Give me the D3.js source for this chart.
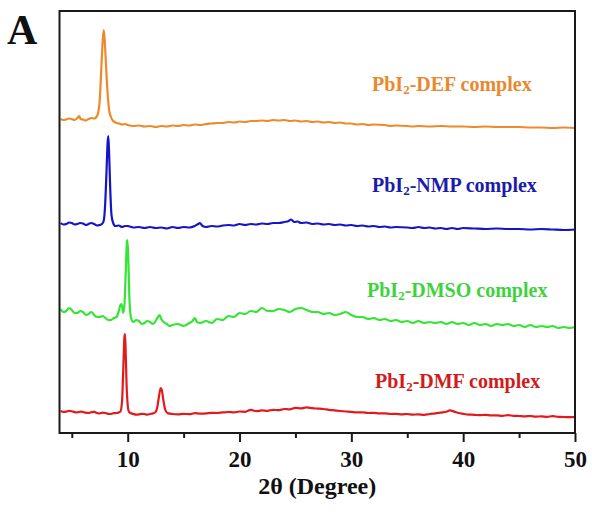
<!DOCTYPE html>
<html><head><meta charset="utf-8">
<script src="https://cdn.jsdelivr.net/npm/d3@7"></script>
<style>body{margin:0;background:#fff}svg{display:block}</style>
</head><body><svg id="c" width="592" height="517"></svg>
<script>
// 2θ (degree), intensity (counts, relative to each trace's offset)
const seriesNames = ["PbI2-DMF complex","PbI2-DMSO complex","PbI2-NMP complex","PbI2-DEF complex"];
const seriesOffsets = [0, 900, 1900, 2900];
const xMajorTicks = [10,20,30,40,50];
const xMinorTicks = [5,15,25,35,45];

const dmf = [[4.0,220],[4.25,212],[4.5,214],[4.75,222],[5.0,218],[5.25,209],[5.5,206],[5.75,214],[6.0,210],[6.25,203],[6.5,200],[6.75,208],[7.0,211],[7.25,200],[7.5,195],[7.75,203],[8.0,200],[8.25,192],[8.5,190],[8.75,198],[9.0,200],[9.2,206],[9.35,215],[9.5,330],[9.6,630],[9.7,950],[9.75,990],[9.8,880],[9.9,480],[10.0,280],[10.1,215],[10.25,200],[10.5,190],[10.75,184],[11.0,186],[11.25,192],[11.5,190],[11.75,183],[12.0,190],[12.25,196],[12.45,205],[12.65,260],[12.8,370],[12.95,450],[13.05,430],[13.2,320],[13.35,235],[13.55,200],[13.8,193],[14.0,190],[14.5,186],[15.0,192],[15.5,188],[16.0,198],[16.5,194],[17.0,196],[17.5,202],[18.0,200],[18.5,206],[19.0,210],[19.5,206],[20.0,215],[20.5,212],[21.0,232],[21.5,218],[22.0,226],[22.5,222],[23.0,232],[23.5,228],[24.0,240],[24.5,236],[25.0,252],[25.5,246],[26.0,256],[26.5,248],[27.0,244],[27.5,240],[28.0,232],[28.5,226],[29.0,220],[29.5,215],[30.0,212],[30.5,206],[31.0,206],[31.5,200],[32.0,202],[32.5,196],[33.0,196],[33.5,190],[34.0,192],[34.5,186],[35.0,190],[35.5,184],[36.0,186],[36.5,182],[37.0,190],[37.5,196],[38.0,204],[38.5,212],[38.8,226],[39.2,214],[39.6,200],[40.0,192],[40.5,184],[41.0,182],[41.5,178],[42.0,182],[42.5,176],[43.0,176],[43.5,172],[44.0,178],[44.5,172],[45.0,170],[45.5,166],[46.0,170],[46.5,164],[47.0,166],[47.5,162],[48.0,168],[48.5,162],[49.0,160],[49.5,158],[50.0,160]];

const dmso = [[4.0,340],[4.25,310],[4.5,320],[4.75,350],[5.0,330],[5.25,300],[5.5,300],[5.75,320],[6.0,310],[6.25,280],[6.5,290],[6.75,310],[7.0,280],[7.25,260],[7.5,260],[7.75,270],[8.0,250],[8.25,230],[8.5,230],[8.75,250],[9.0,260],[9.2,320],[9.35,380],[9.45,390],[9.6,300],[9.72,400],[9.82,700],[9.92,1000],[9.97,1030],[10.05,850],[10.15,450],[10.3,250],[10.5,210],[10.75,230],[11.0,220],[11.25,190],[11.5,200],[11.75,220],[12.0,210],[12.25,190],[12.5,220],[12.7,260],[12.85,280],[13.0,240],[13.2,210],[13.5,190],[13.75,170],[14.0,180],[14.5,190],[15.0,170],[15.5,200],[15.8,220],[16.0,250],[16.2,210],[16.5,200],[17.0,220],[17.5,200],[18.0,240],[18.5,230],[19.0,270],[19.5,260],[20.0,300],[20.5,290],[21.0,320],[21.5,310],[22.0,350],[22.5,320],[23.0,320],[23.5,340],[24.0,330],[24.5,310],[25.0,340],[25.5,350],[26.0,330],[26.5,310],[27.0,310],[27.5,290],[28.0,300],[28.5,280],[29.0,290],[29.5,310],[30.0,280],[30.5,260],[31.0,260],[31.5,240],[32.0,250],[32.5,230],[33.0,240],[33.5,220],[34.0,230],[34.5,210],[35.0,220],[35.5,200],[36.0,220],[36.5,200],[37.0,210],[37.5,200],[38.0,210],[38.5,190],[39.0,210],[39.5,190],[40.0,200],[40.5,180],[41.0,200],[41.5,180],[42.0,190],[42.5,170],[43.0,190],[43.5,180],[44.0,190],[44.5,170],[45.0,180],[45.5,160],[46.0,180],[46.5,160],[47.0,170],[47.5,160],[48.0,170],[48.5,150],[49.0,160],[49.5,150],[50.0,160]];

const nmp = [[4.0,200],[4.25,185],[4.5,190],[4.75,205],[5.0,200],[5.25,185],[5.5,190],[5.75,200],[6.0,195],[6.25,180],[6.5,190],[6.75,200],[7.0,190],[7.25,175],[7.5,180],[7.7,190],[7.85,220],[7.98,380],[8.1,700],[8.2,1000],[8.27,1070],[8.35,850],[8.45,500],[8.55,280],[8.7,200],[8.9,170],[9.2,175],[9.5,160],[9.75,170],[10.0,170],[10.5,155],[11.0,160],[11.5,150],[12.0,160],[12.5,150],[13.0,155],[13.5,145],[14.0,160],[14.5,150],[15.0,160],[15.5,155],[16.0,170],[16.3,190],[16.45,200],[16.7,170],[17.0,160],[17.5,170],[18.0,165],[18.5,175],[19.0,180],[19.5,175],[20.0,190],[20.5,180],[21.0,190],[21.5,185],[22.0,195],[22.5,190],[23.0,200],[23.5,200],[24.0,210],[24.4,220],[24.6,235],[24.9,210],[25.2,215],[25.5,200],[26.0,205],[26.5,190],[27.0,195],[27.5,185],[28.0,190],[28.5,180],[29.0,185],[29.5,175],[30.0,180],[30.5,170],[31.0,175],[31.5,165],[32.0,170],[32.5,160],[33.0,165],[33.5,155],[34.0,160],[35.0,155],[35.5,150],[36.0,160],[36.5,150],[37.0,155],[37.5,145],[38.0,150],[38.5,140],[39.0,150],[39.5,140],[40.0,150],[41.0,145],[42.0,140],[43.0,145],[44.0,140],[45.0,140],[46.0,135],[47.0,140],[48.0,135],[49.0,130],[50.0,135]];

const def = [[4.0,240],[4.25,230],[4.5,235],[4.75,245],[5.0,240],[5.25,230],[5.5,250],[5.65,270],[5.8,240],[6.0,235],[6.25,225],[6.5,240],[6.75,250],[7.0,245],[7.2,260],[7.35,300],[7.5,430],[7.62,700],[7.75,1000],[7.85,1130],[7.93,1050],[8.05,800],[8.2,500],[8.35,320],[8.5,260],[8.7,220],[9.0,200],[9.25,195],[9.5,185],[9.75,190],[10.0,180],[10.5,170],[11.0,175],[11.5,165],[12.0,170],[12.5,160],[13.0,170],[13.5,165],[14.0,175],[14.5,170],[15.0,180],[15.5,175],[16.0,185],[16.5,180],[17.0,190],[17.5,195],[18.0,200],[18.5,200],[19.0,210],[19.5,205],[20.0,215],[20.5,210],[21.0,220],[21.5,220],[22.0,225],[22.5,220],[23.0,230],[23.5,225],[24.0,230],[24.5,220],[25.0,225],[25.5,215],[26.0,220],[26.5,210],[27.0,215],[27.5,205],[28.0,210],[28.5,200],[29.0,205],[29.5,195],[30.0,195],[30.5,185],[31.0,190],[31.5,180],[32.0,185],[33.0,180],[33.5,170],[34.0,175],[35.0,170],[35.5,165],[36.0,170],[37.0,165],[38.0,170],[39.0,165],[40.0,165],[41.0,160],[42.0,165],[43.0,160],[44.0,160],[45.0,160],[46.0,155],[47.0,155],[48.0,150],[49.0,155],[50.0,150]];

const seriesData = [dmf, dmso, nmp, def];
const lineColors = ["#e31a1c", "#33e633", "#1414c8", "#ee8a2a"];
const textColors = ["#d01c1c", "#3fd23f", "#1c1caa", "#e8892e"];

const svg = d3.select("#c");
const M = {l:59.5, r:575, t:11, b:433};
const x = d3.scaleLinear().domain([3.9, 50]).range([M.l, M.r]);
const y = d3.scaleLinear().domain([0, 4220]).range([M.b, M.t]);
const FONT = "Liberation Serif";

// traces
const line = d3.line().x(d => x(d[0])).y(d => y(d[1])).curve(d3.curveMonotoneX);
seriesData.forEach((s, i) => {
  const off = seriesOffsets[i];
  svg.append("path")
    .datum(s.map(d => [d[0], d[1] + off]))
    .attr("d", line)
    .attr("fill", "none")
    .attr("stroke", lineColors[i])
    .attr("stroke-width", 2.2)
    .attr("stroke-linejoin", "round");
});

// frame
svg.append("rect").attr("x", M.l).attr("y", M.t).attr("width", M.r - M.l).attr("height", M.b - M.t)
  .attr("fill", "none").attr("stroke", "#1a1a1a").attr("stroke-width", 2);

// bottom axis
const gMaj = svg.append("g").attr("transform", `translate(0,${M.b})`)
  .call(d3.axisBottom(x).tickValues(xMajorTicks).tickSize(9).tickPadding(9).tickFormat(d3.format("d")));
const gMin = svg.append("g").attr("transform", `translate(0,${M.b})`)
  .call(d3.axisBottom(x).tickValues(xMinorTicks).tickSize(5).tickFormat(""));
[gMaj, gMin].forEach(g => {
  g.select(".domain").remove();
  g.selectAll(".tick line").attr("stroke", "#1a1a1a").attr("stroke-width", 2);
});
gMaj.selectAll(".tick text").style("font-family", FONT).style("font-weight", "bold")
  .style("font-size", "23px").attr("fill", "#111");

// axis title
svg.append("text").attr("x", (M.l + M.r) / 2).attr("y", 494).attr("text-anchor", "middle")
  .style("font-family", FONT).style("font-weight", "bold").style("font-size", "24px").attr("fill", "#111")
  .text("2θ (Degree)");

// panel letter
svg.append("text").attr("x", 7).attr("y", 44)
  .style("font-family", FONT).style("font-weight", "bold").style("font-size", "42px").attr("fill", "#111")
  .text("A");

// series labels
const labelPos = [[375, 388], [367, 297], [372, 192], [372, 91]];
seriesNames.forEach((name, i) => {
  const parts = name.split("2");
  const t = svg.append("text").attr("x", labelPos[i][0]).attr("y", labelPos[i][1])
    .style("font-family", FONT).style("font-weight", "bold").style("font-size", "20px")
    .attr("fill", textColors[i]);
  t.append("tspan").text(parts[0]);
  t.append("tspan").style("font-size", "13px").attr("dy", 3).text("2");
  t.append("tspan").attr("dy", -3).text(parts[1]);
});
</script></body></html>
